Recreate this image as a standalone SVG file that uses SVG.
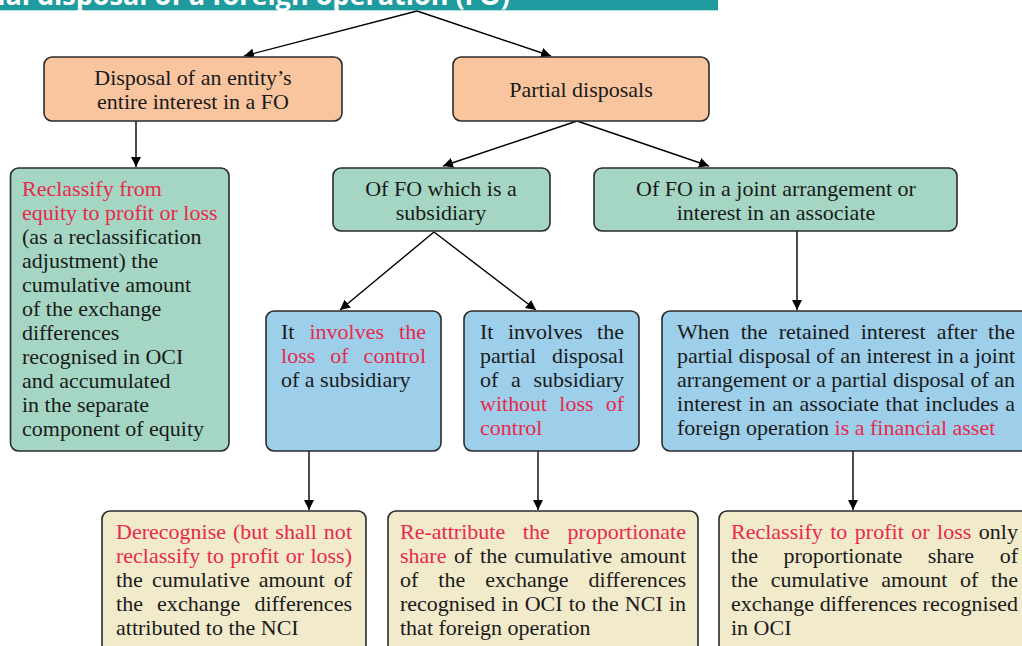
<svg xmlns="http://www.w3.org/2000/svg" width="1022" height="646" viewBox="0 0 1022 646">
<defs>
<marker id="ah" viewBox="0 0 10 10" refX="10" refY="5" markerWidth="10" markerHeight="10" markerUnits="userSpaceOnUse" orient="auto">
<path d="M0,0 L10,5 L0,10 z" fill="#000"/>
</marker>
<style>
.box{stroke:#2b2b2b;stroke-width:1.6}
.or{fill:#f8c59f}.gr{fill:#a4d6c3}.bl{fill:#9dcfea}.be{fill:#f1eacb}
.t{font-family:"Liberation Serif","Times New Roman",serif;font-size:22px;fill:#1a1a1a}
.c{text-anchor:middle}
.r{fill:#e8294b}
.con{stroke:#000;stroke-width:1.4;fill:none;marker-end:url(#ah)}
.title{font-family:"Open Sans","Liberation Sans",sans-serif;font-weight:bold;font-size:27px;fill:#fff;text-anchor:end}
</style>
</defs>
<rect width="1022" height="646" fill="#fff"/>
<g id="title">
<rect x="0" y="0" width="718" height="10" fill="#1f9a9f"/>
<line x1="0" y1="10.5" x2="718" y2="10.5" stroke="#b5e0e0" stroke-width="1"/>
<text class="title" x="510" y="5">Disposal or partial disposal of a foreign operation (FO)</text>
</g>
<g id="connectors">
<path class="con" d="M417,11 L244,56"/>
<path class="con" d="M417,11 L551,56"/>
<path class="con" d="M136,121 L136,167"/>
<path class="con" d="M577,121 L443,166"/>
<path class="con" d="M577,121 L709,166"/>
<path class="con" d="M434,232 L340,310"/>
<path class="con" d="M434,232 L536,310"/>
<path class="con" d="M797,231 L797,310"/>
<path class="con" d="M309,451 L309,510"/>
<path class="con" d="M538,451 L538,510"/>
<path class="con" d="M853,451 L853,510"/>
</g>
<g id="n-entire">
<rect class="box or" x="44" y="57" width="298" height="64" rx="8"/>
<text class="t c" x="193" y="85">Disposal of an entity’s</text>
<text class="t c" x="193" y="109">entire interest in a FO</text>
</g>
<g id="n-partial">
<rect class="box or" x="453" y="57" width="256" height="64" rx="8"/>
<text class="t c" x="581" y="97">Partial disposals</text>
</g>
<g id="n-reclassify-entire">
<rect class="box gr" x="10.5" y="168" width="218.5" height="283" rx="8"/>
<text class="t r" x="22" y="196">Reclassify from</text>
<text class="t r" x="22" y="220">equity to profit or loss</text>
<text class="t" x="22" y="244">(as a reclassification</text>
<text class="t" x="22" y="268">adjustment) the</text>
<text class="t" x="22" y="292">cumulative amount</text>
<text class="t" x="22" y="316">of the exchange</text>
<text class="t" x="22" y="340">differences</text>
<text class="t" x="22" y="364">recognised in OCI</text>
<text class="t" x="22" y="388">and accumulated</text>
<text class="t" x="22" y="412">in the separate</text>
<text class="t" x="22" y="436">component of equity</text>
</g>
<g id="n-subsidiary">
<rect class="box gr" x="333" y="168" width="217" height="63" rx="8"/>
<text class="t c" x="441" y="196">Of FO which is a</text>
<text class="t c" x="441" y="220">subsidiary</text>
</g>
<g id="n-joint">
<rect class="box gr" x="594" y="168" width="363" height="63" rx="8"/>
<text class="t c" x="776" y="196">Of FO in a joint arrangement or</text>
<text class="t c" x="776" y="220">interest in an associate</text>
</g>
<g id="n-loss-control">
<rect class="box bl" x="266" y="311" width="175" height="140" rx="8"/>
<text class="t" x="281" y="339" word-spacing="9.5" textLength="145" lengthAdjust="spacing">It <tspan class="r">involves the</tspan></text>
<text class="t r" x="281" y="363" word-spacing="9.5" textLength="145" lengthAdjust="spacing">loss of control</text>
<text class="t" x="281" y="387">of a subsidiary</text>
</g>
<g id="n-without-loss">
<rect class="box bl" x="464" y="311" width="175" height="140" rx="8"/>
<text class="t" x="480" y="339" word-spacing="9" textLength="144" lengthAdjust="spacing">It involves the</text>
<text class="t" x="480" y="363" word-spacing="10.2" textLength="144" lengthAdjust="spacing">partial disposal</text>
<text class="t" x="480" y="387" word-spacing="7.2" textLength="144" lengthAdjust="spacing">of a subsidiary</text>
<text class="t r" x="480" y="411" word-spacing="6.6" textLength="144" lengthAdjust="spacing">without loss of</text>
<text class="t r" x="480" y="435">control</text>
</g>
<g id="n-financial-asset">
<rect class="box bl" x="662" y="311" width="380" height="140" rx="8"/>
<text class="t" x="677" y="339" word-spacing="5.6" textLength="338" lengthAdjust="spacing">When the retained interest after the</text>
<text class="t" x="677" y="363" textLength="338" lengthAdjust="spacing">partial disposal of an interest in a joint</text>
<text class="t" x="677" y="387" textLength="338" lengthAdjust="spacing">arrangement or a partial disposal of an</text>
<text class="t" x="677" y="411" word-spacing="1.1" textLength="338" lengthAdjust="spacing">interest in an associate that includes a</text>
<text class="t" x="677" y="435">foreign operation <tspan class="r">is a financial asset</tspan></text>
</g>
<g id="n-derecognise">
<rect class="box be" x="102" y="511" width="264" height="150" rx="8"/>
<text class="t r" x="116" y="539" word-spacing="1.4" textLength="236" lengthAdjust="spacing">Derecognise (but shall not</text>
<text class="t r" x="116" y="563" word-spacing="0.9" textLength="236" lengthAdjust="spacing">reclassify to profit or loss)</text>
<text class="t" x="116" y="587" word-spacing="3.5" textLength="236" lengthAdjust="spacing">the cumulative amount of</text>
<text class="t" x="116" y="611" word-spacing="8.6" textLength="236" lengthAdjust="spacing">the exchange differences</text>
<text class="t" x="116" y="635">attributed to the NCI</text>
</g>
<g id="n-reattribute">
<rect class="box be" x="388" y="511" width="310" height="150" rx="8"/>
<text class="t r" x="400" y="539" word-spacing="12.2" textLength="286" lengthAdjust="spacing">Re-attribute the proportionate</text>
<text class="t" x="400" y="563" word-spacing="2.1" textLength="286" lengthAdjust="spacing"><tspan class="r">share</tspan> of the cumulative amount</text>
<text class="t" x="400" y="587" word-spacing="14.5" textLength="286" lengthAdjust="spacing">of the exchange differences</text>
<text class="t" x="400" y="611" word-spacing="0.6" textLength="286" lengthAdjust="spacing">recognised in OCI to the NCI in</text>
<text class="t" x="400" y="635">that foreign operation</text>
</g>
<g id="n-reclassify-partial">
<rect class="box be" x="719" y="511" width="330" height="150" rx="8"/>
<text class="t" x="731" y="539" word-spacing="2" textLength="287" lengthAdjust="spacing"><tspan class="r">Reclassify to profit or loss</tspan> only</text>
<text class="t" x="731" y="563" word-spacing="20" textLength="287" lengthAdjust="spacing">the proportionate share of</text>
<text class="t" x="731" y="587" word-spacing="7.2" textLength="287" lengthAdjust="spacing">the cumulative amount of the</text>
<text class="t" x="731" y="611" textLength="287" lengthAdjust="spacing">exchange differences recognised</text>
<text class="t" x="731" y="635">in OCI</text>
</g>
</svg>
